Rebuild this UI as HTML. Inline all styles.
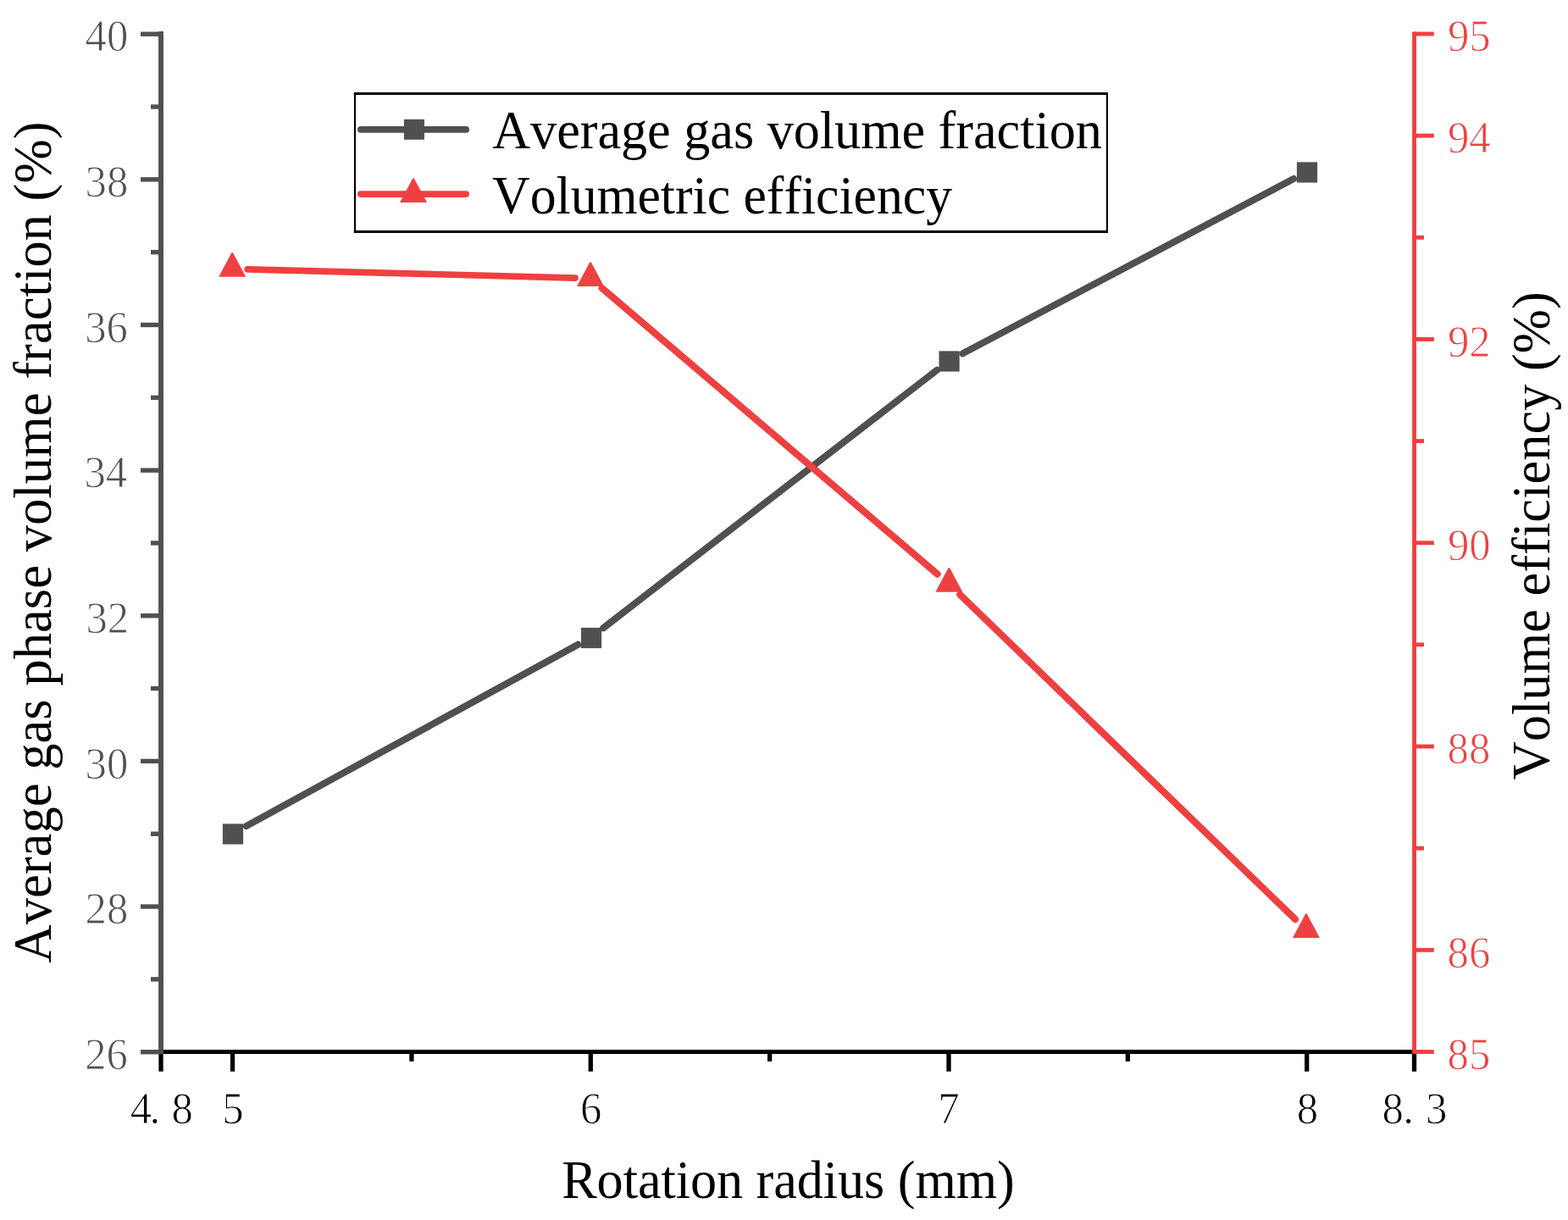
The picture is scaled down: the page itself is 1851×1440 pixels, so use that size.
<!DOCTYPE html>
<html><head><meta charset="utf-8"><title>Chart</title>
<style>
html,body{margin:0;padding:0;background:#fff;}
body{width:1851px;height:1440px;overflow:hidden;}
svg{display:block;}
.tl{stroke:#fff;stroke-width:0.9px;}
text{font-family:'Liberation Serif','Times New Roman',serif;font-kerning:none;font-variant-ligatures:none;font-feature-settings:"kern" 0,"liga" 0;}
</style></head>
<body>
<svg width="1851" height="1440" viewBox="0 0 1851 1440">
<rect width="1851" height="1440" fill="#fff"/>
<line x1="187.10" y1="1241.5" x2="1672.00" y2="1241.5" stroke="#000" stroke-width="5"/>
<line x1="190.00" y1="1241.5" x2="190.00" y2="1264.7" stroke="#000" stroke-width="5.3"/>
<line x1="274.54" y1="1241.5" x2="274.54" y2="1264.7" stroke="#000" stroke-width="5.3"/>
<line x1="697.26" y1="1241.5" x2="697.26" y2="1264.7" stroke="#000" stroke-width="5.3"/>
<line x1="1119.97" y1="1241.5" x2="1119.97" y2="1264.7" stroke="#000" stroke-width="5.3"/>
<line x1="1542.69" y1="1241.5" x2="1542.69" y2="1264.7" stroke="#000" stroke-width="5.3"/>
<line x1="1669.50" y1="1241.5" x2="1669.50" y2="1264.7" stroke="#000" stroke-width="5.3"/>
<line x1="485.90" y1="1241.5" x2="485.90" y2="1252.8" stroke="#000" stroke-width="5.3"/>
<line x1="908.61" y1="1241.5" x2="908.61" y2="1252.8" stroke="#000" stroke-width="5.3"/>
<line x1="1331.33" y1="1241.5" x2="1331.33" y2="1252.8" stroke="#000" stroke-width="5.3"/>
<line x1="190.0" y1="37.0" x2="190.0" y2="1244.0" stroke="#505050" stroke-width="5.9"/>
<line x1="166.0" y1="1241.70" x2="190.0" y2="1241.70" stroke="#505050" stroke-width="5.4"/>
<line x1="166.0" y1="1070.06" x2="190.0" y2="1070.06" stroke="#505050" stroke-width="5.4"/>
<line x1="166.0" y1="898.41" x2="190.0" y2="898.41" stroke="#505050" stroke-width="5.4"/>
<line x1="166.0" y1="726.77" x2="190.0" y2="726.77" stroke="#505050" stroke-width="5.4"/>
<line x1="166.0" y1="555.13" x2="190.0" y2="555.13" stroke="#505050" stroke-width="5.4"/>
<line x1="166.0" y1="383.49" x2="190.0" y2="383.49" stroke="#505050" stroke-width="5.4"/>
<line x1="166.0" y1="211.84" x2="190.0" y2="211.84" stroke="#505050" stroke-width="5.4"/>
<line x1="166.0" y1="40.20" x2="190.0" y2="40.20" stroke="#505050" stroke-width="5.4"/>
<line x1="178.0" y1="1155.88" x2="190.0" y2="1155.88" stroke="#505050" stroke-width="5.4"/>
<line x1="178.0" y1="984.24" x2="190.0" y2="984.24" stroke="#505050" stroke-width="5.4"/>
<line x1="178.0" y1="812.59" x2="190.0" y2="812.59" stroke="#505050" stroke-width="5.4"/>
<line x1="178.0" y1="640.95" x2="190.0" y2="640.95" stroke="#505050" stroke-width="5.4"/>
<line x1="178.0" y1="469.31" x2="190.0" y2="469.31" stroke="#505050" stroke-width="5.4"/>
<line x1="178.0" y1="297.66" x2="190.0" y2="297.66" stroke="#505050" stroke-width="5.4"/>
<line x1="178.0" y1="126.02" x2="190.0" y2="126.02" stroke="#505050" stroke-width="5.4"/>
<line x1="1669.5" y1="37.5" x2="1669.5" y2="1243.8" stroke="#EF4041" stroke-width="4.9"/>
<line x1="1669.5" y1="1241.50" x2="1692.8" y2="1241.50" stroke="#EF4041" stroke-width="4.9"/>
<line x1="1669.5" y1="1121.35" x2="1692.8" y2="1121.35" stroke="#EF4041" stroke-width="4.9"/>
<line x1="1669.5" y1="881.05" x2="1692.8" y2="881.05" stroke="#EF4041" stroke-width="4.9"/>
<line x1="1669.5" y1="640.75" x2="1692.8" y2="640.75" stroke="#EF4041" stroke-width="4.9"/>
<line x1="1669.5" y1="400.45" x2="1692.8" y2="400.45" stroke="#EF4041" stroke-width="4.9"/>
<line x1="1669.5" y1="160.15" x2="1692.8" y2="160.15" stroke="#EF4041" stroke-width="4.9"/>
<line x1="1669.5" y1="40.00" x2="1692.8" y2="40.00" stroke="#EF4041" stroke-width="4.9"/>
<line x1="1669.5" y1="1001.20" x2="1681.0" y2="1001.20" stroke="#EF4041" stroke-width="4.9"/>
<line x1="1669.5" y1="760.90" x2="1681.0" y2="760.90" stroke="#EF4041" stroke-width="4.9"/>
<line x1="1669.5" y1="520.60" x2="1681.0" y2="520.60" stroke="#EF4041" stroke-width="4.9"/>
<line x1="1669.5" y1="280.30" x2="1681.0" y2="280.30" stroke="#EF4041" stroke-width="4.9"/>
<line x1="290.79" y1="975.01" x2="682.21" y2="760.84" stroke="#505050" stroke-width="8.08" stroke-linecap="round"/>
<line x1="712.24" y1="741.19" x2="1106.31" y2="436.66" stroke="#505050" stroke-width="8.10" stroke-linecap="round"/>
<line x1="1136.47" y1="417.25" x2="1527.08" y2="211.05" stroke="#505050" stroke-width="8.07" stroke-linecap="round"/>
<line x1="292.19" y1="317.78" x2="679.01" y2="328.02" stroke="#EF4041" stroke-width="7.72" stroke-linecap="round"/>
<line x1="710.70" y1="340.18" x2="1106.60" y2="677.62" stroke="#EF4041" stroke-width="8.10" stroke-linecap="round"/>
<line x1="1133.23" y1="701.82" x2="1529.02" y2="1085.08" stroke="#EF4041" stroke-width="8.10" stroke-linecap="round"/>
<rect x="262.90" y="972.35" width="24.2" height="24.2" fill="#505050"/>
<rect x="685.90" y="740.90" width="24.2" height="24.2" fill="#505050"/>
<rect x="1108.45" y="414.35" width="24.2" height="24.2" fill="#505050"/>
<rect x="1530.90" y="191.35" width="24.2" height="24.2" fill="#505050"/>
<polygon points="273.40,298.30 275.00,298.30 290.20,326.70 258.20,326.70" fill="#EF4041"/>
<polygon points="696.20,309.50 697.80,309.50 713.00,337.90 681.00,337.90" fill="#EF4041"/>
<polygon points="1119.50,670.30 1121.10,670.30 1136.30,698.70 1104.30,698.70" fill="#EF4041"/>
<polygon points="1541.15,1078.60 1542.75,1078.60 1557.95,1107.00 1525.95,1107.00" fill="#EF4041"/>
<line x1="417.9" y1="110.5" x2="1308.0" y2="110.5" stroke="#000" stroke-width="2.8"/>
<line x1="417.9" y1="273.4" x2="1308.0" y2="273.4" stroke="#000" stroke-width="3.0"/>
<line x1="418.95" y1="109.1" x2="418.95" y2="274.9" stroke="#000" stroke-width="2.1"/>
<line x1="1306.9" y1="109.1" x2="1306.9" y2="274.9" stroke="#000" stroke-width="2.2"/>
<line x1="425.8" y1="152.9" x2="550.2" y2="152.9" stroke="#505050" stroke-width="7.6" stroke-linecap="round"/>
<rect x="476.90" y="140.80" width="24" height="24" fill="#505050"/>
<line x1="425.8" y1="229.1" x2="550.2" y2="229.1" stroke="#EF4041" stroke-width="7.6" stroke-linecap="round"/>
<polygon points="487.20,210.60 488.80,210.60 504.00,239.00 472.00,239.00" fill="#EF4041"/>
<text transform="translate(100.19,1261.80) scale(0.9580,1)" font-size="53" fill="#505050" class="tl">26</text>
<text transform="translate(100.61,1090.16) scale(0.9580,1)" font-size="53" fill="#505050" class="tl">28</text>
<text transform="translate(100.61,918.51) scale(0.9580,1)" font-size="53" fill="#505050" class="tl">30</text>
<text transform="translate(101.48,746.87) scale(0.9580,1)" font-size="53" fill="#505050" class="tl">32</text>
<text transform="translate(99.47,575.23) scale(0.9580,1)" font-size="53" fill="#505050" class="tl">34</text>
<text transform="translate(100.19,403.59) scale(0.9580,1)" font-size="53" fill="#505050" class="tl">36</text>
<text transform="translate(100.61,231.94) scale(0.9580,1)" font-size="53" fill="#505050" class="tl">38</text>
<text transform="translate(100.61,60.30) scale(0.9580,1)" font-size="53" fill="#505050" class="tl">40</text>
<text transform="translate(1708.62,1261.80) scale(0.9580,1)" font-size="53" fill="#EF4041" class="tl">85</text>
<text transform="translate(1708.62,1141.65) scale(0.9580,1)" font-size="53" fill="#EF4041" class="tl">86</text>
<text transform="translate(1708.62,901.35) scale(0.9580,1)" font-size="53" fill="#EF4041" class="tl">88</text>
<text transform="translate(1708.91,661.05) scale(0.9580,1)" font-size="53" fill="#EF4041" class="tl">90</text>
<text transform="translate(1708.91,420.75) scale(0.9580,1)" font-size="53" fill="#EF4041" class="tl">92</text>
<text transform="translate(1708.91,180.45) scale(0.9580,1)" font-size="53" fill="#EF4041" class="tl">94</text>
<text transform="translate(1708.91,60.30) scale(0.9580,1)" font-size="53" fill="#EF4041" class="tl">95</text>
<text transform="translate(262.17,1325.50) scale(0.9580,1)" font-size="53" fill="#000000" class="tl">5</text>
<text transform="translate(685.03,1325.50) scale(0.9580,1)" font-size="53" fill="#000000" class="tl">6</text>
<text transform="translate(1107.14,1325.50) scale(0.9580,1)" font-size="53" fill="#000000" class="tl">7</text>
<text transform="translate(1530.79,1325.50) scale(0.9580,1)" font-size="53" fill="#000000" class="tl">8</text>
<text transform="translate(0,1325.50) scale(0.9580,1)" x="160.39 184.35 211.29" font-size="53" fill="#000000" class="tl">4.8</text>
<text transform="translate(0,1325.50) scale(0.9580,1)" x="1703.15 1728.81 1756.81" font-size="53" fill="#000000" class="tl">8.3</text>
<text transform="translate(663.21,1413.90) scale(0.9856,1)" font-size="63" fill="#000000">Rotation radius (mm)</text>
<text transform="translate(60.00,1136.61) rotate(-90) scale(0.9945,1)" font-size="63" fill="#000000">Average gas phase volume fraction (%)</text>
<text transform="translate(1829.10,920.50) rotate(-90) scale(0.9925,1)" font-size="63" fill="#000000">Volume efficiency (%)</text>
<text transform="translate(581.19,174.90) scale(0.9867,1)" font-size="63" fill="#000000">Average gas volume fraction</text>
<text transform="translate(581.11,251.90) scale(0.9794,1)" font-size="63" fill="#000000">Volumetric efficiency</text>
</svg>
</body></html>
